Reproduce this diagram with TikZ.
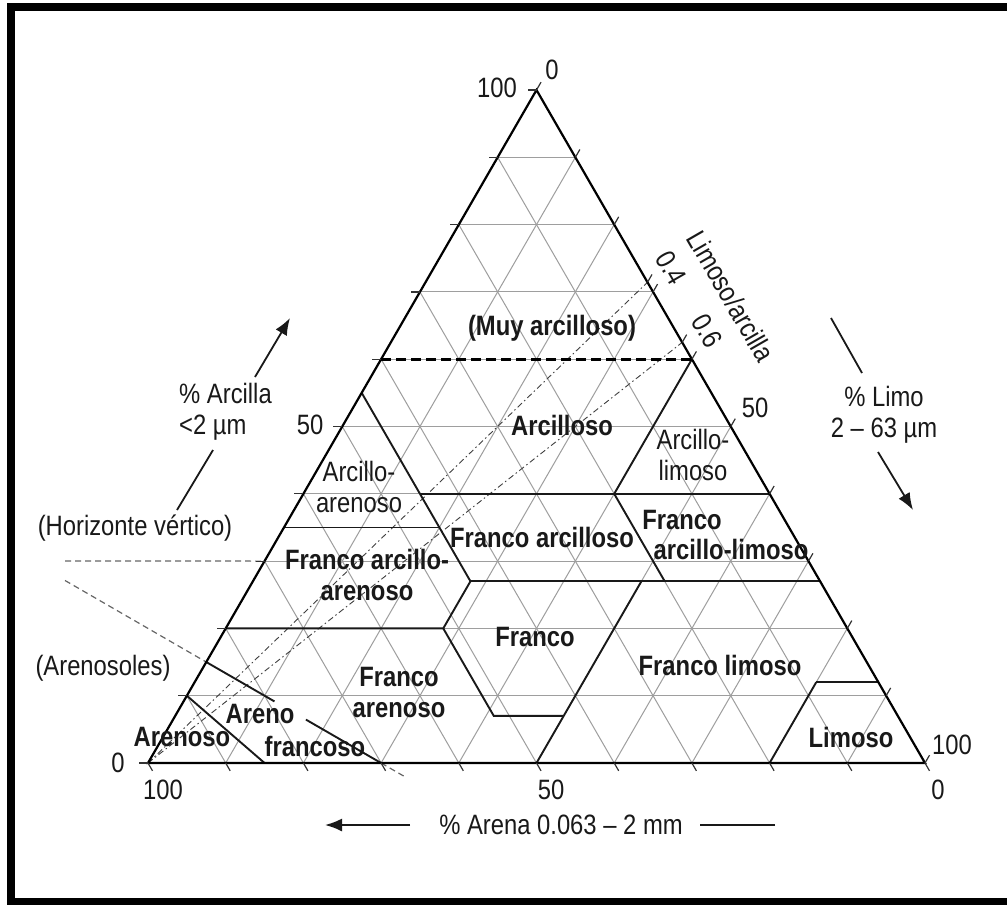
\documentclass[tikz,border=0pt]{standalone}
\usepackage{fontspec}
\setmainfont{Liberation Sans}[FakeStretch=0.85]
\usetikzlibrary{calc,arrows.meta}
\pgfmathdeclarefunction{tx}{2}{\pgfmathparse{148+7.77*(#1)+3.885*(#2)}}
\pgfmathdeclarefunction{ty}{1}{\pgfmathparse{763-6.73*(#1)}}
\tikzset{
  gridln/.style={draw=black!38, line width=1pt},
  triedge/.style={draw=black, line width=2.2pt, line join=miter},
  regionln/.style={draw=black!90, line width=1.9pt},
  tickln/.style={draw=black!80, line width=1.2pt},
  ratioln/.style={draw=black!75, line width=0.9pt, dash pattern=on 6pt off 3pt on 1.5pt off 3pt},
  outdash/.style={draw=black!60, line width=1.2pt, dash pattern=on 6pt off 4pt},
  axisln/.style={draw=black!90, line width=1.8pt},
  axtip/.style={-{Latex[length=17pt,width=13pt]}},
  lbl/.style={font=\fontsize{28}{31}\selectfont, text=black!90, inner sep=1pt, align=center},
  blbl/.style={font=\fontsize{28}{31}\selectfont\bfseries, text=black!90, inner sep=1pt, align=center}
}
\begin{document}
\begin{tikzpicture}[x=1pt,y=-1pt]
\useasboundingbox (0,0) rectangle (1007,905);
\clip (0,0) rectangle (1007,905);
\fill[white] (0,0) rectangle (1007,905);
\draw[line width=8pt] (11,7) rectangle (1016,902);

% corners
\coordinate (BL) at ({tx(0,0)},{ty(0)});
\coordinate (BR) at ({tx(100,0)},{ty(0)});
\coordinate (TP) at ({tx(0,100)},{ty(100)});

% grid
\foreach \i in {1,...,9}{
  \draw[gridln] ({tx(0,10*\i)},{ty(10*\i)}) -- ({tx(100-10*\i,10*\i)},{ty(10*\i)});
  \draw[gridln] ({tx(10*\i,0)},{ty(0)}) -- ({tx(10*\i,100-10*\i)},{ty(100-10*\i)});
  \draw[gridln] ({tx(100-10*\i,0)},{ty(0)}) -- ({tx(0,100-10*\i)},{ty(100-10*\i)});
}

% region points
\coordinate (c55) at ({tx(0,55)},{ty(55)});
\coordinate (sc35) at ({tx(20,35)},{ty(35)});
\coordinate (l35) at ({tx(0,35)},{ty(35)});
\coordinate (sc40) at ({tx(15,40)},{ty(40)});
\coordinate (c40) at ({tx(40,40)},{ty(40)});
\coordinate (r40) at ({tx(60,40)},{ty(40)});
\coordinate (c60) at ({tx(40,60)},{ty(60)});
\coordinate (l60) at ({tx(0,60)},{ty(60)});
\coordinate (cl27) at ({tx(28,27)},{ty(27)});
\coordinate (m27) at ({tx(53,27)},{ty(27)});
\coordinate (l27b) at ({tx(50,27)},{ty(27)});
\coordinate (r27) at ({tx(73,27)},{ty(27)});
\coordinate (l20) at ({tx(0,20)},{ty(20)});
\coordinate (sl20) at ({tx(28,20)},{ty(20)});
\coordinate (l7a) at ({tx(41,7)},{ty(7)});
\coordinate (l7b) at ({tx(50,7)},{ty(7)});
\coordinate (b50) at ({tx(50,0)},{ty(0)});
\coordinate (si12) at ({tx(80,12)},{ty(12)});
\coordinate (r12) at ({tx(88,12)},{ty(12)});
\coordinate (b80) at ({tx(80,0)},{ty(0)});
\coordinate (s10) at ({tx(0,10)},{ty(10)});
\coordinate (b15) at ({tx(15,0)},{ty(0)});
\coordinate (ls15) at ({tx(0,15)},{ty(15)});
\coordinate (b30) at ({tx(30,0)},{ty(0)});
\coordinate (l30) at ({tx(0,30)},{ty(30)});
\coordinate (r04) at ({tx(28.57,71.43)},{ty(71.43)});
\coordinate (r06) at ({tx(37.5,62.5)},{ty(62.5)});

% ratio lines
\draw[ratioln] (BL) -- (r04);
\draw[ratioln] (BL) -- (r06);

% outside dashed lines
\coordinate (hv) at (65,561);
\draw[outdash] (hv) -- (l30);
\coordinate (ar1) at ($(ls15)!-0.808!(b30)$);
\coordinate (ar2) at ($(ls15)!1.137!(b30)$);
\draw[outdash] (ar1) -- (ls15);
\draw[outdash] (b30) -- (ar2);

% region boundaries
\draw[regionln] (c55) -- (cl27);
\draw[regionln] (l35) -- (sc35);
\draw[regionln] (sc40) -- (r40);
\draw[regionln] (c40) -- (c60);
\draw[regionln] (cl27) -- (r27);
\draw[regionln] (c40) -- (m27);
\draw[regionln] (l20) -- (sl20) -- (cl27);
\draw[regionln] (sl20) -- (l7a) -- (l7b);
\draw[regionln] (l27b) -- (b50);
\draw[regionln] (si12) -- (r12);
\draw[regionln] (si12) -- (b80);
\draw[regionln] (s10) -- (b15);
\draw[regionln] (ls15) -- ($(ls15)!0.39!(b30)$);
\draw[regionln] ($(ls15)!0.57!(b30)$) -- (b30);
\draw[black, line width=2.6pt, dash pattern=on 10pt off 5pt] (l60) -- (c60);

% triangle
\draw[triedge] (BL) -- (BR) -- (TP) -- cycle;

% ticks
\foreach \i in {0,...,10}{
  \draw[tickln] ({tx(0,10*\i)},{ty(10*\i)}) -- ++(-9,0);
  \draw[tickln] ({tx(10*\i,0)},{ty(0)}) -- ++(4.5,7.8);
  \draw[tickln] ({tx(10*\i,100-10*\i)},{ty(100-10*\i)}) -- ++(4.5,-7.8);
}
\draw[tickln] (r04) -- ++(4.5,-7.8);
\draw[tickln] (r06) -- ++(4.5,-7.8);

% scale numbers
\node[lbl] (n100t) at (497,88) {100};
\node[lbl] (n0t) at (552,70) {0};
\node[lbl] (n50l) at (310,425) {50};
\node[lbl] (n0l) at (118,763) {0};
\node[lbl] (n100b) at (163,790) {100};
\node[lbl] (n50b) at (551,790) {50};
\node[lbl] (n0b) at (938,790) {0};
\node[lbl] (n50r) at (755,408) {50};
\node[lbl] (n100r) at (952,745) {100};

% ratio labels
\node[lbl, rotate=-60] (lsa) at (731,296) {Limoso/arcilla};
\node[lbl, rotate=-60] (r04l) at (671,268) {0.4};
\node[lbl, rotate=-60] (r06l) at (707,331) {0.6};

% axis labels and arrows
\node[lbl, align=left, anchor=west] (arc) at (178,412) {\% Arcilla\\<2 µm};
\coordinate (aA1) at (177,510);
\coordinate (aA2) at (213,450);
\coordinate (aA3) at (255,377);
\coordinate (aA4) at (290,318);
\draw[axisln] (aA1) -- (aA2);
\draw[axisln, axtip] (aA3) -- (aA4);

\node[lbl] (lim) at (884,415) {\% Limo\\2 – 63 µm};
\coordinate (aL1) at (831,318);
\coordinate (aL2) at (862,373);
\coordinate (aL3) at (878,452);
\coordinate (aL4) at (913,510);
\draw[axisln] (aL1) -- (aL2);
\draw[axisln, axtip] (aL3) -- (aL4);

\node[lbl] (are) at (561,825) {\% Arena 0.063 – 2 mm};
\coordinate (aR1) at (775,825);
\coordinate (aR2) at (700,825);
\coordinate (aR3) at (410,825);
\coordinate (aR4) at (325,825);
\draw[axisln] (aR1) -- (aR2);
\draw[axisln, axtip] (aR3) -- (aR4);

\node[lbl] (hvl) at (135,528) {(Horizonte vértico)};
\node[lbl] (arl) at (103,668) {(Arenosoles)};

% class labels
\node[blbl] (muy) at (552,328) {(Muy arcilloso)};
\node[blbl] (arc1) at (562,425) {Arcilloso};
\node[lbl] (arcl) at (693,455) {Arcillo-\\limoso};
\node[lbl] (arca) at (359,487) {Arcillo-\\arenoso};
\node[blbl] (fac) at (542,537) {Franco arcilloso};
\node[blbl] (fal1) at (682,520) {Franco};
\node[blbl] (fal2) at (731,549) {arcillo-limoso};
\node[blbl] (faa) at (367,575) {Franco arcillo-\\arenoso};
\node[blbl] (fra) at (535,637) {Franco};
\node[blbl] (frl) at (720,665) {Franco limoso};
\node[blbl] (fare) at (399,692) {Franco\\arenoso};
\node[blbl] (arf1) at (260,714) {Areno};
\node[blbl] (arf2) at (315,746) {francoso};
\node[blbl] (aren) at (182,737) {Arenoso};
\node[blbl] (limo) at (851,737) {Limoso};
\end{tikzpicture}
\end{document}
